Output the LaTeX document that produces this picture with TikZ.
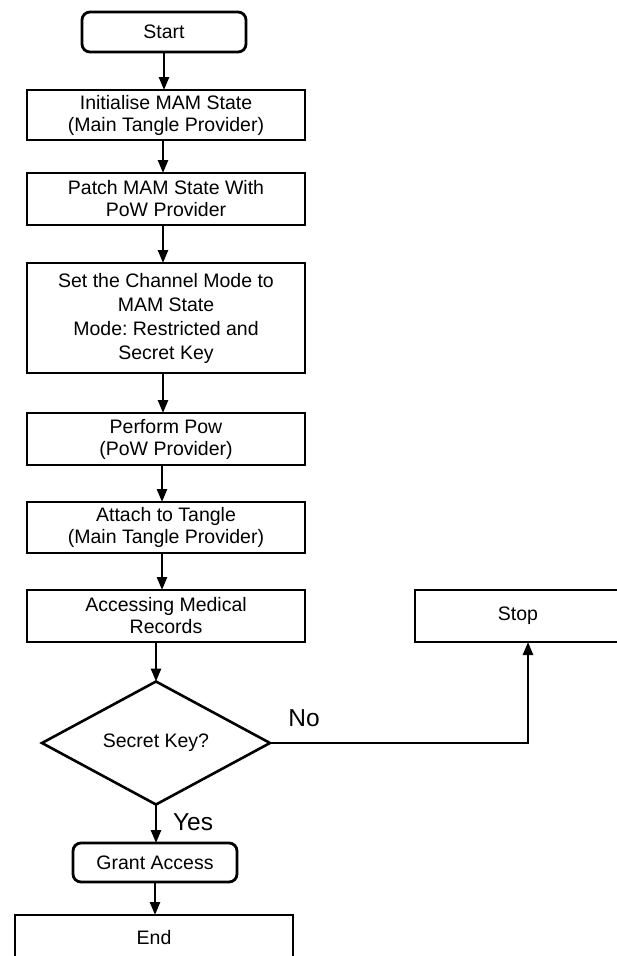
\documentclass[tikz,border=0pt]{standalone}
\usepackage{fontspec}
\setmainfont{Liberation Sans}
\usetikzlibrary{shapes.geometric,arrows.meta}
\frenchspacing
\begin{document}
\begin{tikzpicture}[x=1pt,y=-1pt,
  every node/.style={inner sep=0pt,outer sep=0pt},
  box/.style={draw,line width=2.8pt,minimum width=278pt,align=center,
    font=\fontsize{19.5}{22}\selectfont},
  rbox/.style={draw,line width=2.8pt,rounded corners=8pt,minimum width=164pt,align=center,
    font=\fontsize{19.5}{22}\selectfont},
  decision/.style={draw,diamond,line width=2.6pt,minimum width=228pt,minimum height=123pt,
    shape aspect=1.85,font=\fontsize{19.5}{22}\selectfont},
  lbl/.style={font=\fontsize{24.5}{26}\selectfont},
  arr/.style={line width=2.6pt,-{Triangle[length=13pt,width=10pt]}}
]
\useasboundingbox (0,0) rectangle (617,956);
\node[rbox,minimum height=40pt] (start) at (164,32) {Start};
\node[box,minimum height=50pt] (init) at (166,115) {Initialise MAM State\\(Main Tangle Provider)};
\node[box,minimum height=52pt] (patch) at (166,199) {Patch MAM State With\\PoW Provider};
\node[box,minimum height=110pt,font=\fontsize{19.5}{24}\selectfont] (set) at (166,318)
  {Set the Channel Mode to\\MAM State\\Mode: Restricted and\\Secret Key};
\node[box,minimum height=52pt] (perform) at (166,439) {Perform Pow\\(PoW Provider)};
\node[box,minimum height=51pt] (attach) at (166,527.5) {Attach to Tangle\\(Main Tangle Provider)};
\node[box,minimum height=52pt] (access) at (166,616) {Accessing Medical\\Records};
\node[decision] (dia) at (156,743) {Secret Key?};
\node[rbox,minimum height=39pt] (grant) at (155,862.5) {Grant Access};
\node[box,minimum height=46pt] (endb) at (154,938) {End};
\node[box,minimum width=206pt,minimum height=52pt] (stop) at (518,616) {Stop};
\node[lbl] (no) at (304,718) {No};
\node[lbl] (yes) at (193,822) {Yes};
\coordinate (corner) at (528,743);

\draw[arr] (start.south) -- (start.south |- init.north);
\draw[arr] ([xshift=-3pt]init.south) -- ([xshift=-3pt]patch.north);
\draw[arr] ([xshift=-3pt]patch.south) -- ([xshift=-3pt]set.north);
\draw[arr] ([xshift=-3pt]set.south) -- ([xshift=-3pt]perform.north);
\draw[arr] ([xshift=-4pt]perform.south) -- ([xshift=-4pt]attach.north);
\draw[arr] ([xshift=-4pt]attach.south) -- ([xshift=-4pt]access.north);
\draw[arr] (access.south -| dia.north) -- (dia.north);
\draw[arr] (dia.east) -- (corner) -- (corner |- stop.south);
\draw[arr] (dia.south) -- (dia.south |- grant.north);
\draw[arr] (grant.south) -- (grant.south |- endb.north);
\end{tikzpicture}
\end{document}
